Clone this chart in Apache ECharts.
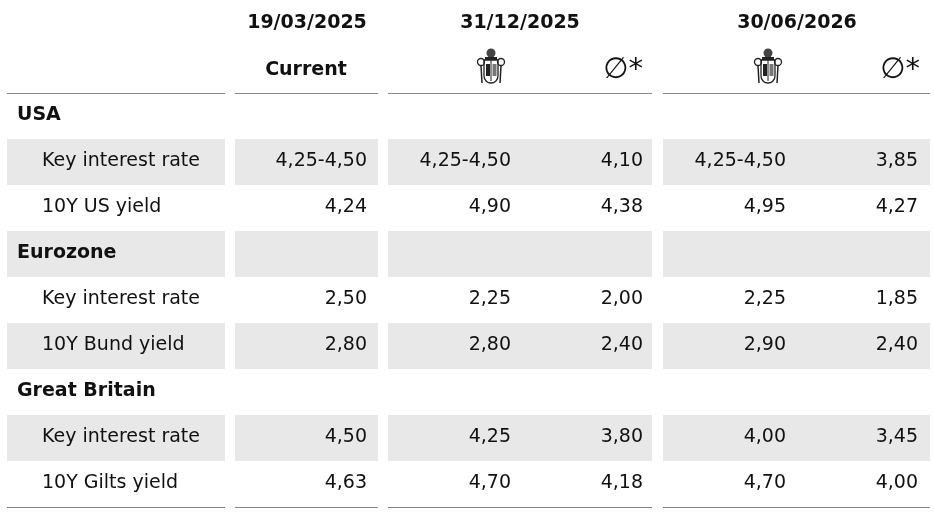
<!DOCTYPE html><html><head><meta charset="utf-8">
<script src="https://cdn.jsdelivr.net/npm/echarts@6/dist/echarts.min.js"></script>
<style>html,body{margin:0;padding:0;background:#fff}#c{width:934px;height:517px}</style></head><body><div id="c"></div>
<script>
const dates = ['19/03/2025', '31/12/2025', '30/06/2026'];
const rowLabels = ['USA', 'Key interest rate', '10Y US yield', 'Eurozone', 'Key interest rate', '10Y Bund yield', 'Great Britain', 'Key interest rate', '10Y Gilts yield'];
const isSection = [true, false, false, true, false, false, true, false, false];
const shaded = [false, true, false, true, false, true, false, true, false];
const current = ['', '4,25-4,50', '4,24', '', '2,50', '2,80', '', '4,50', '4,63'];
const forecastDec25 = ['', '4,25-4,50', '4,90', '', '2,25', '2,80', '', '4,25', '4,70'];
const consensusDec25 = ['', '4,10', '4,38', '', '2,00', '2,40', '', '3,80', '4,18'];
const forecastJun26 = ['', '4,25-4,50', '4,95', '', '2,25', '2,90', '', '4,00', '4,70'];
const consensusJun26 = ['', '3,85', '4,27', '', '1,85', '2,40', '', '3,45', '4,00'];

const FONT = '"DejaVu Sans", sans-serif';
const blocks = [[7,225],[235,378],[388,652],[663,930]];
const valRight = [367, 511, 643, 786, 918];
const valCols = [current, forecastDec25, consensusDec25, forecastJun26, consensusJun26];
const data = rowLabels.map((l,i)=>[0,i]);

function crest(cx, cy){
  return {type:'group', x:cx-14, y:cy-21, children:[
    {type:'rect', shape:{x:7,y:13,width:14,height:23,r:[0,0,7,7]}, style:{fill:'#fff',stroke:'#222',lineWidth:1.3}},
    {type:'line', shape:{x1:14,y1:13,x2:14,y2:34}, style:{stroke:'#222',lineWidth:1}},
    {type:'rect', shape:{x:9,y:17,width:4,height:12}, style:{fill:'#222'}},
    {type:'rect', shape:{x:15.5,y:17,width:4,height:12}, style:{fill:'#777'}},
    {type:'circle', shape:{cx:14,cy:6,r:4.5}, style:{fill:'#444'}},
    {type:'rect', shape:{x:8,y:10,width:12,height:3}, style:{fill:'#222'}},
    {type:'circle', shape:{cx:4,cy:15,r:3.5}, style:{fill:'none',stroke:'#222',lineWidth:1.3}},
    {type:'circle', shape:{cx:24,cy:15,r:3.5}, style:{fill:'none',stroke:'#222',lineWidth:1.3}},
    {type:'line', shape:{x1:4,y1:19,x2:5,y2:36}, style:{stroke:'#222',lineWidth:1.5}},
    {type:'line', shape:{x1:24,y1:19,x2:23,y2:36}, style:{stroke:'#222',lineWidth:1.5}}
  ]};
}
const hdr = {font:'bold 19px '+FONT, fill:'#111'};
const graphics = [
  {type:'text', x:307, y:23, style:Object.assign({text:dates[0], align:'center', verticalAlign:'middle'},hdr)},
  {type:'text', x:520, y:23, style:Object.assign({text:dates[1], align:'center', verticalAlign:'middle'},hdr)},
  {type:'text', x:797, y:23, style:Object.assign({text:dates[2], align:'center', verticalAlign:'middle'},hdr)},
  {type:'text', x:306, y:70, style:Object.assign({text:'Current', align:'center', verticalAlign:'middle'},hdr)},
  crest(491, 68), crest(768, 68),
  {type:'text', x:643, y:70, style:{text:'∅*', align:'right', verticalAlign:'middle', font:'29px '+FONT, fill:'#111'}},
  {type:'text', x:920, y:70, style:{text:'∅*', align:'right', verticalAlign:'middle', font:'29px '+FONT, fill:'#111'}}
];
blocks.forEach(b=>{
  graphics.push({type:'line', shape:{x1:b[0],y1:93.5,x2:b[1],y2:93.5}, style:{stroke:'#888',lineWidth:1.2}});
  graphics.push({type:'line', shape:{x1:b[0],y1:507.5,x2:b[1],y2:507.5}, style:{stroke:'#888',lineWidth:1.2}});
});

const chart = echarts.init(document.getElementById('c'));
chart.setOption({
  animation:false,
  grid:{left:0,right:0,top:93,bottom:10},
  xAxis:{type:'value',min:0,max:934,show:false},
  yAxis:{type:'category',data:rowLabels,inverse:true,show:false},
  graphic:graphics,
  series:[{type:'custom', data:data, renderItem:function(params, api){
    const i = api.value(1);
    const c = api.coord([0,i]);
    const h = api.size([0,1])[1];
    const top = c[1]-h/2, bh = h, cy = c[1]-1;
    const ch = [];
    if(shaded[i]) blocks.forEach(b=>ch.push({type:'rect', shape:{x:b[0],y:top,width:b[1]-b[0],height:bh}, style:{fill:'#e8e8e8'}}));
    ch.push({type:'text', x:isSection[i]?17:42, y:cy, style:{text:rowLabels[i], verticalAlign:'middle', font:(isSection[i]?'bold ':'')+'19px '+FONT, fill:'#111'}});
    valCols.forEach((col,k)=>{ if(col[i]) ch.push({type:'text', x:valRight[k], y:cy, style:{text:col[i], align:'right', verticalAlign:'middle', font:'19px '+FONT, fill:'#111'}}); });
    return {type:'group', children:ch};
  }}]
});
</script></body></html>
